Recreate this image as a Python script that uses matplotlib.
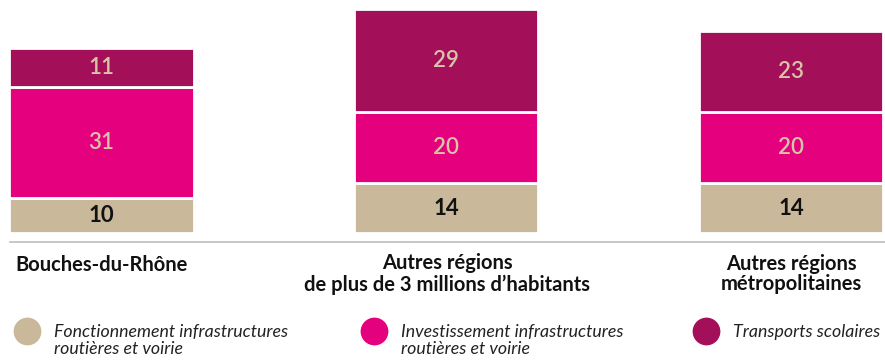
import matplotlib.pyplot as plt
import numpy as np

# Data
regions = ["Bouches-du-Rhône",
           "Autres régions\nde plus de 3 millions d’habitants",
           "Autres régions\nmétropolitaines"]
fonctionnement = [10, 14, 14]
investissement = [31, 20, 20]
transports = [11, 29, 23]

series_names = ["Fonctionnement infrastructures\nroutières et voirie",
                "Investissement infrastructures\nroutières et voirie",
                "Transports scolaires"]
colors = ["#C9B99A", "#E5007E", "#A30F58"]
label_colors = ["#111111", "#D8C4A6", "#D8C4A6"]

plt.rcParams['font.family'] = ['Lato', 'DejaVu Sans']

W, H = 885, 362
fig = plt.figure(figsize=(W / 100, H / 100), dpi=100)

# bars: baseline at y=233 px, ~3.55 px per unit
base_px = 233
ax = fig.add_axes([0, (H - base_px) / H, 1, base_px / H])
ax.set_ylim(0, base_px / 3.55)
ax.set_xlim(-101.5 / 345, 2 + (W - 791) / 345)
ax.axis('off')

x = np.arange(len(regions))
bottom = np.zeros(len(regions))
for vals, col, tcol in zip([fonctionnement, investissement, transports], colors, label_colors):
    vals = np.array(vals, dtype=float)
    ax.bar(x, vals, width=0.535, bottom=bottom, color=col,
           edgecolor='white', linewidth=2)
    for xi, b, v in zip(x, bottom, vals):
        ax.text(xi, b + v / 2, f"{int(v)}", ha='center', va='center',
                fontsize=16, color=tcol,
                fontweight='bold' if tcol == "#111111" else 'semibold')
    bottom += vals

# overlay in pixel coordinates for the separator, category names and legend
ov = fig.add_axes([0, 0, 1, 1])
ov.set_xlim(0, W)
ov.set_ylim(H, 0)
ov.axis('off')

ov.plot([10, W], [242, 242], color="#BDBDBD", lw=1.2)

ov.text(15, 265, regions[0], ha='left', va='center', fontsize=14.5, fontweight='bold', color="#111111")
ov.text(447, 274, regions[1], ha='center', va='center', fontsize=14.5, fontweight='bold',
        color="#111111", linespacing=1.05)
ov.text(791, 274, regions[2], ha='center', va='center', fontsize=14.5, fontweight='bold',
        color="#111111", linespacing=1.05)

legend_x = [27, 374, 706]
for lx, name, col in zip(legend_x, series_names, colors):
    ov.scatter([lx], [331], s=400, color=col, linewidths=0)
    ov.text(lx + 27, 324, name, ha='left', va='top', fontsize=12.8, fontstyle='italic',
            color="#222222", linespacing=1.05)

fig.savefig("out.png", dpi=100)
